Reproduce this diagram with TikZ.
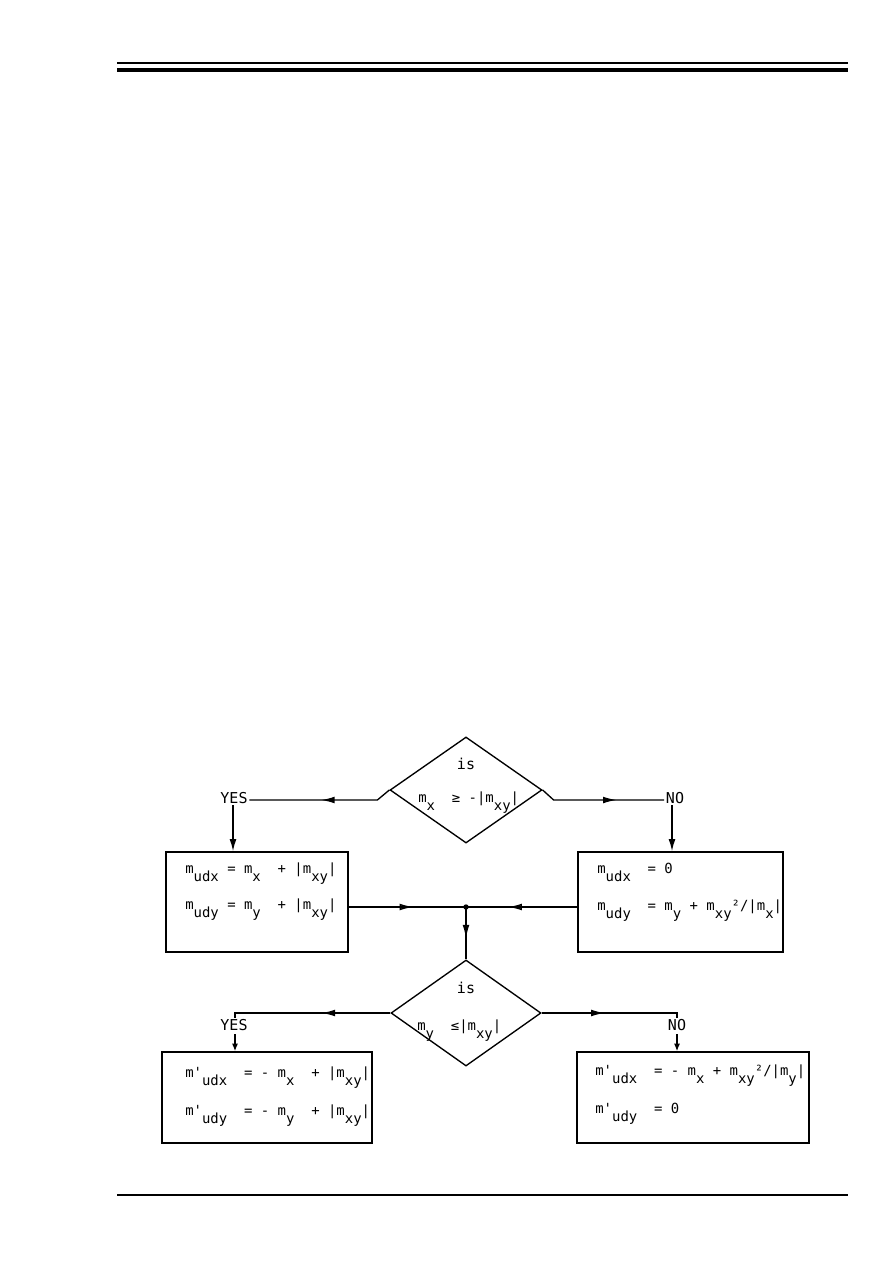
\documentclass[tikz,border=0pt]{standalone}
\usepackage{fontspec}
\newfontfamily\typew{DejaVu Sans Mono}
\usetikzlibrary{shapes.geometric,decorations.markings,arrows.meta}
\newcommand{\lo}[1]{\raisebox{-5.5pt}{#1}}
\tikzset{
    decision/.style={ % losange de test
        draw,
        shape=diamond,
        inner sep=0pt,
        line width=0.9pt
    },
    calcbox/.style={ % boite de calcul
        draw,
        shape=rectangle,
        line width=1pt
    },
    eqn/.style={ % une ligne de formule
        font=\typew\fontsize{9.3}{11}\selectfont,
        anchor=base west,
        inner sep=0pt
    },
    answer/.style={ % YES / NO / is
        font=\typew\fontsize{10}{12}\selectfont,
        inner sep=1pt
    },
    flow/.style={line width=0.9pt},
    midarrow/.style={ % fleche pleine au milieu
        postaction={decorate},
        decoration={markings, mark=at position #1 with {\arrow{Latex[length=9pt,width=4.5pt]}}}
    },
    midopen/.style={ % fleche ouverte au milieu
        postaction={decorate},
        decoration={markings, mark=at position #1 with {\arrow{Latex[open,length=9pt,width=4.5pt]}}}
    }
}

\begin{document}
\begin{tikzpicture}[x=0.6667pt, y=-0.6667pt]

        \useasboundingbox (0,0) rectangle (893,1263);

        % filets de page
        \draw[line width=0.9pt] (117,63) -- (848,63);
        \draw[line width=2.9pt] (117,70) -- (848,70);
        \draw[line width=0.9pt] (117,1195) -- (848,1195);

        % premier test
        \node [decision, minimum width=101.3pt, minimum height=70.7pt] (d1) at (466,790) {};
        \node [answer] (d1is) at (466,764) {is};
        \node [eqn] (d1eq) at (418,802) {m\lo{x}~~≥ -|m\lo{xy}|};

        \node [answer] (yes1) at (234,798) {YES};
        \node [answer] (no1) at (675,798) {NO};

        \node [calcbox, minimum width=121.3pt, minimum height=66.7pt] (b1) at (257,902) {};
        \node [eqn] (b1a) at (185,873) {m\lo{udx} = m\lo{x}~~+ |m\lo{xy}|};
        \node [eqn] (b1b) at (185,909) {m\lo{udy} = m\lo{y}~~+ |m\lo{xy}|};

        \node [calcbox, minimum width=136.7pt, minimum height=66.7pt] (b2) at (680.5,902) {};
        \node [eqn] (b2a) at (597,873) {m\lo{udx}~~= 0};
        \node [eqn] (b2b) at (597,910) {m\lo{udy}~~= m\lo{y} + m\lo{xy}²/|m\lo{x}|};

        \coordinate (j) at (466,907);
        \fill (j) circle (1.8pt);

        % second test
        \node [decision, minimum width=100pt, minimum height=70.7pt] (d2) at (466,1013) {};
        \node [answer] (d2is) at (466,988) {is};
        \node [eqn] (d2eq) at (417,1030) {m\lo{y}~~≤|m\lo{xy}|};

        \node [answer] (yes2) at (234,1025) {YES};
        \node [answer] (no2) at (677,1025) {NO};

        \node [calcbox, minimum width=140pt, minimum height=60.7pt] (b3) at (267,1097.5) {};
        \node [eqn] (b3a) at (185,1077) {m'\lo{udx}~~= - m\lo{x}~~+ |m\lo{xy}|};
        \node [eqn] (b3b) at (185,1115) {m'\lo{udy}~~= - m\lo{y}~~+ |m\lo{xy}|};

        \node [calcbox, minimum width=154.7pt, minimum height=60.7pt] (b4) at (693,1097.5) {};
        \node [eqn] (b4a) at (595,1075) {m'\lo{udx}~~= - m\lo{x} + m\lo{xy}²/|m\lo{y}|};
        \node [eqn] (b4b) at (595,1113) {m'\lo{udy}~~= 0};

        % liaisons
        \draw[flow, midarrow=0.5] (d1.west) -- ++(-12,10) coordinate (k1) -- (k1 -| yes1.east);
        \draw[flow, midarrow=0.62] (d1.east) -- ++(11,10) coordinate (k2) -- (k2 -| no1.west);
        \draw[flow, -{Latex[length=8pt,width=4.5pt]}] (yes1.south) ++(-1,0) -- (b1.north -| 233,0);
        \draw[flow, -{Latex[length=8pt,width=4.5pt]}] (no1.south) ++(-3,0) -- (b2.north -| 672,0);
        \draw[flow, midopen=0.55] (b1.east |- j) -- (j);
        \draw[flow, midopen=0.62] (b2.west |- j) -- (j);
        \draw[flow, midarrow=0.6] (j) -- (d2.north);
        \draw[flow, midarrow=0.43] (d2.west) -- (d2.west -| 235,0) coordinate (k3) -- (k3 |- yes2.north);
        \draw[flow, midarrow=0.45] (d2.east) -- (d2.east -| 677,0) coordinate (k4) -- (k4 |- no2.north);
        \draw[flow, -{Latex[length=5pt,width=4pt]}] (yes2.south) ++(1,2) -- (b3.north -| 235,0);
        \draw[flow, -{Latex[length=5pt,width=4pt]}] (no2.south) ++(0,2) -- (b4.north -| 677,0);

\end{tikzpicture}
\end{document}
